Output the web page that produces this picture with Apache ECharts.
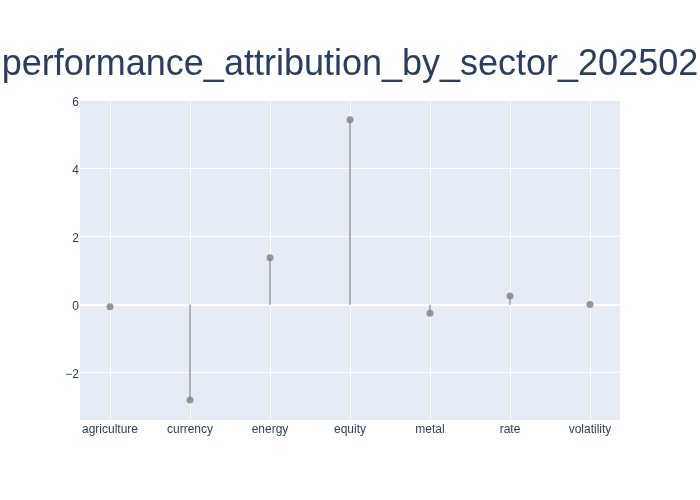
<!DOCTYPE html>
<html>
<head>
<meta charset="utf-8">
<script src="https://cdn.jsdelivr.net/npm/echarts@6/dist/echarts.min.js"></script>
<style>html,body{margin:0;padding:0;background:#fff}#c{width:700px;height:500px}</style>
</head>
<body>
<div id="c"></div>
<script>
const titleText = 'performance_attribution_by_sector_202502';
const categories = ['agriculture', 'currency', 'energy', 'equity', 'metal', 'rate', 'volatility'];
const values = [-0.06, -2.80, 1.38, 5.44, -0.25, 0.26, 0.01];
const yMin = -3.39, yMax = 6.02;

const chart = echarts.init(document.getElementById('c'));
const font = 'Liberation Sans, Arial, sans-serif';
const fmt = v => (Math.abs(v - Math.round(v)) > 1e-6) ? '' : String(v).replace('-', '\u2212');
chart.setOption({
  backgroundColor: '#fff',
  animation: false,
  title: {
    text: titleText, left: 'center', top: 42,
    textStyle: { fontSize: 36, fontWeight: 'normal', color: '#2a3f5f', fontFamily: font }
  },
  grid: [
    { left: 80, right: 80, top: 100, bottom: 80, show: true, backgroundColor: '#E5ECF6', borderWidth: 0 },
    { left: 110, right: 110, top: 100, bottom: 80 }
  ],
  xAxis: [
    { gridIndex: 0, type: 'value', min: 0, max: 1, axisLabel: { show: false }, axisTick: { show: false }, splitLine: { show: false },
      axisLine: { show: true, onZero: true, lineStyle: { color: '#fff', width: 2 } } },
    { gridIndex: 1, type: 'category', data: categories, boundaryGap: false,
      axisLine: { show: false }, axisTick: { show: false },
      axisLabel: { color: '#2a3f5f', fontSize: 12, fontFamily: font, margin: 4 },
      splitLine: { show: true, lineStyle: { color: '#fff', width: 1 } } }
  ],
  yAxis: [
    { gridIndex: 0, type: 'value', min: yMin, max: yMax,
      axisLine: { show: false }, axisTick: { show: false },
      axisLabel: { color: '#2a3f5f', fontSize: 12, fontFamily: font, margin: 1, verticalAlign: 'top', lineHeight: 12, padding: [-4, 0, 0, 0], formatter: fmt },
      splitLine: { show: true, lineStyle: { color: '#fff', width: 1 } } },
    { gridIndex: 1, type: 'value', min: yMin, max: yMax, show: false, splitLine: { show: false } }
  ],
  series: [
    { type: 'bar', xAxisIndex: 1, yAxisIndex: 1, data: values, barWidth: 1.5,
      itemStyle: { color: '#9a9a9a' }, silent: true },
    { type: 'scatter', xAxisIndex: 1, yAxisIndex: 1, data: values, symbolSize: 7,
      itemStyle: { color: '#7f7f7f' }, z: 5 }
  ]
});
</script>
</body>
</html>
